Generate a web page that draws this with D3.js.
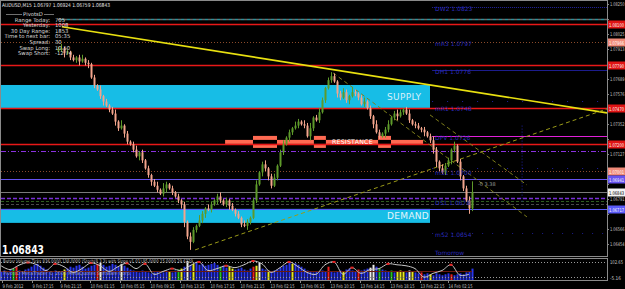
<!DOCTYPE html>
<html>
<head>
<meta charset="utf-8">
<script src="https://cdn.jsdelivr.net/npm/d3@7"></script>
<style>
html, body { margin: 0; padding: 0; background: #000; overflow: hidden; }
svg { display: block; }
text { font-family: "DejaVu Sans", sans-serif; }
</style>
</head>
<body>
<svg id="chart" width="625" height="289"></svg>
<script>
// ---- data ----
const firstOpen = 1.0790;
const closes = [
  1.0791, 1.0792, 1.0788, 1.0789, 1.0785, 1.0783, 1.0785, 1.0782, 1.0784, 1.0781,
  1.0780, 1.0770, 1.0764, 1.0761, 1.0756, 1.0752, 1.0749, 1.0746, 1.0743, 1.0737,
  1.0732, 1.0734, 1.0728, 1.0722, 1.0720, 1.0716, 1.0711, 1.0714, 1.0708, 1.0702,
  1.0697, 1.0692, 1.0689, 1.0686, 1.0683, 1.0687, 1.0690, 1.0687, 1.0684, 1.0681,
  1.0678, 1.0675, 1.0662, 1.0651, 1.0647, 1.0656, 1.0659, 1.0663, 1.0668, 1.0672,
  1.0671, 1.0675, 1.0678, 1.0681, 1.0678, 1.0675, 1.0678, 1.0674, 1.0671, 1.0668,
  1.0665, 1.0660, 1.0659, 1.0662, 1.0665, 1.0678, 1.0690, 1.0699, 1.0705, 1.0702,
  1.0696, 1.0689, 1.0695, 1.0704, 1.0714, 1.0720, 1.0725, 1.0729, 1.0732, 1.0734,
  1.0737, 1.0735, 1.0734, 1.0726, 1.0732, 1.0740, 1.0738, 1.0744, 1.0753, 1.0762,
  1.0768, 1.0771, 1.0767, 1.0758, 1.0755, 1.0759, 1.0753, 1.0756, 1.0759, 1.0758,
  1.0755, 1.0750, 1.0752, 1.0747, 1.0741, 1.0735, 1.0729, 1.0726, 1.0728, 1.0731,
  1.0735, 1.0740, 1.0743, 1.0741, 1.0744, 1.0746, 1.0743, 1.0738, 1.0735, 1.0734,
  1.0732, 1.0731, 1.0729, 1.0726, 1.0723, 1.0716, 1.0707, 1.0702, 1.0699, 1.0704,
  1.0708, 1.0716, 1.0719, 1.0707, 1.0696, 1.0687, 1.0678, 1.0672, 1.06843
];
// wick lengths in pips above / below the body
const upWicks = [
  2,3,1,2,1,2,1,2,3,1, 2,1,2,1,3,1,2,1,2,3, 1,4,1,2,1,2,3,1,2,1,
  2,1,2,3,1,4,2,1,2,1, 2,1,2,1,3,2,1,4,2,1, 3,2,1,2,3,1,2,1,2,1,
  2,1,3,2,1,2,3,1,2,3, 1,2,3,1,2,3,1,2,1,3, 2,1,3,2,4,1,2,3,2,1,
  2,3,2,1,2,3,2,1,4,2, 1,2,3,1,2,1,3,2,1,2, 3,1,2,3,2,1,2,3,1,2,
  2,1,2,1,2,3,2,1,3,2, 2,1,3,1,2,1,2,3,8
];
const downWicks = [
  1,2,3,1,2,1,2,3,1,2, 3,1,2,1,2,3,1,2,1,3, 2,1,3,2,1,2,1,3,2,1,
  2,3,1,2,1,2,3,1,2,1, 2,3,4,2,6,1,2,1,2,3, 1,2,1,3,2,1,2,3,1,2,
  1,2,1,3,2,1,2,1,3,2, 3,2,1,2,1,2,1,3,2,1, 2,1,2,1,3,2,1,2,1,2,
  1,2,1,3,2,1,2,3,1,2, 2,1,2,1,2,3,1,2,1,3, 2,1,2,3,1,2,1,2,1,2,
  1,2,3,1,2,3,4,2,1,2, 1,3,2,1,3,2,1,4,2
];

const priceTicks = [1.08250, 1.08138, 1.08025, 1.07913, 1.07801, 1.07689, 1.07576, 1.07464,
  1.07352, 1.07240, 1.07127, 1.07015, 1.06903, 1.06791, 1.06678, 1.06566, 1.06454];

const timeLabels = ['9 Feb 2012', '9 Feb 17:15', '9 Feb 21:15', '10 Feb 01:15', '10 Feb 05:15',
  '10 Feb 09:15', '10 Feb 13:15', '10 Feb 17:15', '10 Feb 21:15', '13 Feb 02:15', '13 Feb 06:15',
  '13 Feb 10:15', '13 Feb 14:15', '13 Feb 18:15', '13 Feb 22:15', '14 Feb 02:15'];
const timeIdx = [-18.7, -8.7, 0.7, 10.7, 20.7, 30.7, 40.7, 50.7, 60.7, 70.7, 80.7, 90.7, 100.7, 110.7, 120.7, 130];

const redLines = [1.0810, 1.0779, 1.0747, 1.0720];
const pivotRow = 1.08138;
const dashDotLine = 1.07150;
const violetLine = 1.06941;
const bidLine = 1.06843;
const ds1Rows = [1.06799, 1.06777, 1.06754];
const blueLine = 1.06717;
const sparseDots = [1.07524, 1.07023];

const levelNames = ['DW2', 'mR3', 'DH1', 'mR1', 'DPV', 'mS1', 'DS1', 'mS2'];
const levelPrices = [1.08231, 1.07966, 1.07756, 1.07480, 1.07263, 1.07001, 1.06777, 1.06537];

const supplyZone = [1.07472, 1.07644];
const demandZone = [1.06612, 1.06717];
const zoneEndIdx = 124;
const resistanceBand = [1.07203, 1.07233];
const resistanceSpan = [55.7, 121.7];
const resistanceBoxes = [[65, 73], [85.3, 89.3], [106.7, 111]];

// trendlines: [idx1, price1, idx2, price2]
const yellowTrend = [1.3, 1.0808, 183, 1.07435];
const supportTrend = [45.7, 1.0641, 183, 1.07465];
const channelA = [91.7, 1.07734, 156.3, 1.06657];
const channelB = [124, 1.0742, 156.3, 1.06896];
const futureLineIdx = 154.7;

const infoLabels = ['Range Today:', 'Yesterday:', '30 Day Range:', 'Time to next bar:', 'Spread:', 'Swap Long:', 'Swap Short:'];
const infoValues = ['705', '1008', '1853', '05:35', '30', '10.50', '-12.74'];

// indicator: volumes from bar index -19 onward
const volumes = [
  45,50,40,55,60,70,50,45,55,60, 70,80,85,75,65,55,45,40,50,45,
  40,55,60,70,65,75,80,70,60,65, 75,80,85,90,80,70,75,85,80,70,
  85,75,65,55,50,45,40,50,45,40, 35,40,45,35,40,50,45,40,50,55,
  60,70,100,80,85,90,80,85,75,80, 85,90,80,70,75,65,70,60,55,60,
  65,55,50,60,70,75,90,60,55,50, 45,50,55,65,75,80,90,85,88,80,
  70,60,50,45,40,45,40,50,45,70, 45,40,45,50,45,55,60,50,45,55,
  50,55,60,65,80,70,60,55,50,45, 50,40,45,50,45,40,50,45,40,35,
  40,30,35,30,25,35,30,25,30,35, 30,25,30,35,30,40,45,60
];
const volFlags = [[4,'g'],[5,'r'],[21,'y'],[32,'r'],[33,'w'],[40,'w'],[56,'y'],[59,'g'],[60,'y'],
  [62,'w'],[64,'y'],[73,'g'],[76,'y'],[77,'y'],[84,'r'],[85,'y'],[86,'w'],[89,'y'],[97,'y'],
  [109,'r'],[114,'y'],[119,'r'],[123,'w'],[124,'w'],[126,'g'],[130,'g'],[132,'y'],[133,'y'],
  [134,'y'],[136,'w'],[137,'y'],[140,'r'],[143,'y'],[150,'r']];
// stochastic, one point every 3 bars
const stochValues = [75,55,78,92,80,50,85,70,40,60, 90,75,45,70,88,60,85,30,45,60,
  50,75,95,50,60,75,65,80,100,85, 40,65,95,70,40,30,80,95,30,65,
  35,55,60,85,80,75,60,15,35,50, 80,25,30];
const stochLevels = [95, 15];
const indScaleLabels = ['102.65', '-5.16'];

// ---- drawing ----
const svg = d3.select('#chart');
const W = 625, H = 289, plotRight = 607;

svg.append('rect').attr('width', W).attr('height', H).attr('fill', '#000');

const x = d3.scaleLinear().domain([0, 138]).range([58, 472]);
const y = d3.scaleLinear().domain([1.06454, 1.08250]).range([244, 4]);
const yv = d3.scaleLinear().domain([0, 100]).range([280, 261]);

svg.append('clipPath').attr('id', 'mainClip')
  .append('rect').attr('x', 1).attr('y', 1).attr('width', plotRight - 1).attr('height', 255);
const g = svg.append('g').attr('clip-path', 'url(#mainClip)');

function hline(p, color, w, dash, x0) {
  g.append('line')
    .attr('x1', x0 === undefined ? 1 : x0).attr('x2', plotRight)
    .attr('y1', Math.round(y(p)) + 0.5).attr('y2', Math.round(y(p)) + 0.5)
    .attr('stroke', color).attr('stroke-width', w)
    .attr('stroke-dasharray', dash || null);
}

// squeeze small MT4-style text into a fixed width
function fit(sel, w) {
  return sel.attr('textLength', w).attr('lengthAdjust', 'spacingAndGlyphs');
}

// zones
[supplyZone, demandZone].forEach(z => {
  g.append('rect')
    .attr('x', 1).attr('width', x(zoneEndIdx) - 1)
    .attr('y', y(z[1])).attr('height', y(z[0]) - y(z[1]))
    .attr('fill', '#17bde6');
});

// pivot dashed rows
hline(pivotRow, '#6a6a6a', 1.5, '3,3', x(0));
g.append('line').attr('x1', x(0) + 3).attr('x2', plotRight)
  .attr('y1', Math.round(y(pivotRow)) + 0.5).attr('y2', Math.round(y(pivotRow)) + 0.5)
  .attr('stroke', '#2f8f98').attr('stroke-width', 1.5).attr('stroke-dasharray', '3,3');

const lvl = {};
levelNames.forEach((n, i) => lvl[n] = levelPrices[i]);
const lvStart = x(124.7);
hline(lvl.DW2, '#2424a0', 1, '1,1', lvStart);
hline(lvl.mR3, '#8a4a2a', 1, '1,2');
hline(lvl.DH1, '#1c1c8c', 1, null, lvStart);
hline(lvl.DPV, '#e020d8', 1, null, lvStart);
hline(lvl.mS1, '#8a4a2a', 1, '1,2');
hline(lvl.mS2, '#1c1c8c', 1, '1,9', lvStart);
sparseDots.forEach(p => hline(p, '#2020a0', 1, '1,14', lvStart));

hline(dashDotLine, '#8a30e0', 1, '5,2,1,2');
hline(violetLine, '#6652f0', 1);
hline(bidLine, '#7a7a7a', 1);
hline(ds1Rows[0], '#7a30d8', 1.5, '4,2');
hline(ds1Rows[1], '#2e5e1e', 1, '3,2');
hline(ds1Rows[2], '#4a4a4a', 1, '3,2');
hline(blueLine, '#5a5af8', 1);

// resistance bar
g.append('rect')
  .attr('x', x(resistanceSpan[0])).attr('width', x(resistanceSpan[1]) - x(resistanceSpan[0]))
  .attr('y', y(resistanceBand[1])).attr('height', y(resistanceBand[0]) - y(resistanceBand[1]))
  .attr('fill', '#ff6a52');
resistanceBoxes.forEach(b => {
  const x0 = x(b[0]), x1 = x(b[1]);
  const top = y(resistanceBand[1]), bot = y(resistanceBand[0]);
  g.append('rect').attr('x', x0).attr('width', x1 - x0).attr('y', top - 4).attr('height', bot - top + 8).attr('fill', '#ff6a52');
  g.append('rect').attr('x', x0).attr('width', x1 - x0).attr('y', top).attr('height', bot - top).attr('fill', '#000');
});

redLines.forEach(p => hline(p, '#e81818', 1.6));

// vertical dotted line in the future area
g.append('line')
  .attr('x1', x(futureLineIdx)).attr('x2', x(futureLineIdx))
  .attr('y1', y(1.0734)).attr('y2', y(1.0677))
  .attr('stroke', '#2020a0').attr('stroke-dasharray', '1,2');

// trendlines
function trend(t, color, w, dash) {
  g.append('line')
    .attr('x1', x(t[0])).attr('y1', y(t[1]))
    .attr('x2', x(t[2])).attr('y2', y(t[3]))
    .attr('stroke', color).attr('stroke-width', w)
    .attr('stroke-dasharray', dash || null);
}
trend(yellowTrend, '#e8e010', 1.6);
trend(supportTrend, '#9a9a18', 1, '4,3');
trend(channelA, '#7f7f1a', 1, '4,3');
trend(channelB, '#7f7f1a', 1, '4,3');

// candles
const candles = closes.map((c, i) => {
  const o = i === 0 ? firstOpen : closes[i - 1];
  return {
    i, o, c,
    h: Math.max(o, c) + upWicks[i] * 1e-4,
    l: Math.min(o, c) - downWicks[i] * 1e-4
  };
});
const bullCol = '#5e9a2a', bearCol = '#f2a48c';
g.selectAll('.wick').data(candles).enter().append('line')
  .attr('x1', d => Math.round(x(d.i)) + 0.5).attr('x2', d => Math.round(x(d.i)) + 0.5)
  .attr('y1', d => y(d.h)).attr('y2', d => y(d.l))
  .attr('stroke', d => d.c >= d.o ? bullCol : bearCol).attr('stroke-width', 1);
g.selectAll('.body').data(candles).enter().append('rect')
  .attr('x', d => Math.round(x(d.i)) - 0.5).attr('width', 2)
  .attr('y', d => y(Math.max(d.o, d.c)))
  .attr('height', d => Math.max(1, Math.abs(y(d.o) - y(d.c))))
  .attr('fill', d => d.c >= d.o ? bullCol : bearCol);

// zone and bar captions
g.append('text').attr('x', x(109.7)).attr('y', (y(supplyZone[0]) + y(supplyZone[1])) / 2 + 3.5)
  .attr('fill', '#d8f0fb').attr('font-size', 9).attr('letter-spacing', 0.3).text('SUPPLY');
g.append('text').attr('x', x(109.7)).attr('y', (y(demandZone[0]) + y(demandZone[1])) / 2 + 3.5)
  .attr('fill', '#e4f4fc').attr('font-size', 9).attr('letter-spacing', 0.3).text('DEMAND');
g.append('text').attr('x', x(91.3)).attr('y', (y(resistanceBand[0]) + y(resistanceBand[1])) / 2 + 2.4)
  .attr('fill', '#fff').attr('font-size', 6.3).attr('letter-spacing', 0.2).text('RESISTANCE');

// level labels
levelNames.forEach((n, i) => {
  g.append('text').attr('x', x(125.7)).attr('y', y(levelPrices[i]) + 4)
    .attr('fill', '#2a2ab8').attr('font-size', 6).text(n + '  ' + levelPrices[i].toFixed(4));
});
g.append('text').attr('x', x(125.7)).attr('y', 255)
  .attr('fill', '#2a2ab8').attr('font-size', 6).text('Tomorrow');
g.append('text').attr('x', x(140)).attr('y', y(1.06885))
  .attr('fill', '#9a9a9a').attr('font-size', 5).text('-0 3.38');

// info box
const info = svg.append('g').attr('font-size', 5.3).attr('fill', '#d8d8d8');
fit(info.append('text').attr('x', 2).attr('y', 6.5).attr('fill', '#e8e8e8')
  .text('AUDUSD,M15  1.06797 1.06924 1.06759 1.06843'), 108);
info.append('text').attr('x', 33).attr('y', 16).attr('text-anchor', 'middle').text('PivotsD');
info.append('line').attr('x1', 6).attr('x2', 22).attr('y1', 14.5).attr('y2', 14.5).attr('stroke', '#bbb').attr('stroke-width', 0.6);
info.append('line').attr('x1', 44).attr('x2', 54).attr('y1', 14.5).attr('y2', 14.5).attr('stroke', '#bbb').attr('stroke-width', 0.6);
infoLabels.forEach((t, i) => {
  info.append('text').attr('x', 50).attr('y', 21.5 + i * 5.6).attr('text-anchor', 'end').text(t);
  info.append('text').attr('x', 55).attr('y', 21.5 + i * 5.6).text(infoValues[i]);
});

fit(svg.append('text').attr('x', 2).attr('y', 254).attr('fill', '#fff')
  .attr('font-size', 12).attr('font-weight', 'bold')
  .attr('font-family', '"Liberation Sans", Arial, sans-serif').text(bidLine.toFixed(5)), 42);

// right price axis (labels under a price tag are hidden, as in the terminal)
const tags = [[redLines[0], '#e01414', '#fff'], [lvl.mR3, '#f08a78', '#fff'], [redLines[1], '#e01414', '#fff'],
  [redLines[2], '#e01414', '#fff'], [redLines[3], '#e01414', '#fff'], [lvl.mS1, '#f08a78', '#fff'],
  [violetLine, '#6652f0', '#fff'], [bidLine, '#f4f4f4', '#000'], [blueLine, '#5a5af8', '#fff']];
const ax = svg.append('g').attr('font-size', 5).attr('fill', '#c4c4c4');
priceTicks.forEach(p => {
  ax.append('line').attr('x1', plotRight).attr('x2', plotRight + 2)
    .attr('y1', Math.round(y(p)) + 0.5).attr('y2', Math.round(y(p)) + 0.5).attr('stroke', '#888');
  const covered = tags.some(t => Math.abs(y(t[0]) - y(p)) < 6.5);
  if (!covered) fit(ax.append('text').attr('x', 610).attr('y', y(p) + 2).text(p.toFixed(5)), 14.5);
});
tags.forEach(t => {
  const yy = Math.round(y(t[0]));
  ax.append('rect').attr('x', plotRight + 1).attr('width', W - plotRight).attr('y', yy - 3.5).attr('height', 8).attr('fill', t[1]);
  fit(ax.append('text').attr('x', 609).attr('y', yy + 2.5).attr('fill', t[2]).text(t[0].toFixed(5)), 15);
});

// frame
svg.append('rect').attr('x', 0.5).attr('y', 0.5).attr('width', plotRight).attr('height', 256)
  .attr('fill', 'none').attr('stroke', '#8a8a8a');
svg.append('rect').attr('x', 0.5).attr('y', 258.5).attr('width', plotRight).attr('height', 22)
  .attr('fill', 'none').attr('stroke', '#8a8a8a');

// indicator window
const iw = svg.append('g');
const volCol = { b: '#2a36ec', g: '#22c022', y: '#e8e820', w: '#ececec', r: '#e82020' };
const flagMap = new Map(volFlags);
iw.selectAll('.vol').data(volumes).enter().append('rect')
  .attr('x', (d, k) => Math.round(x(k - 19)) - 0.5).attr('width', 2)
  .attr('y', d => yv(d)).attr('height', d => yv(0) - yv(d))
  .attr('fill', (d, k) => volCol[flagMap.get(k) || 'b']);
stochLevels.forEach(v => {
  iw.append('line').attr('x1', 1).attr('x2', plotRight)
    .attr('y1', Math.round(yv(v)) + 0.5).attr('y2', Math.round(yv(v)) + 0.5)
    .attr('stroke', '#9a9a9a').attr('stroke-dasharray', '1,2');
});
iw.append('line').attr('x1', 1).attr('x2', x(138))
  .attr('y1', Math.round(yv(50)) + 0.5).attr('y2', Math.round(yv(50)) + 0.5)
  .attr('stroke', '#6a1a10');
const stochPts = stochValues.map((v, j) => [x(-19 + 3 * j), yv(v)]);
iw.append('path').attr('d', d3.line().curve(d3.curveCatmullRom)(stochPts))
  .attr('fill', 'none').attr('stroke', '#c8c8c8').attr('stroke-width', 1);
stochValues.forEach((v, j) => {
  const prev = stochValues[j - 1], next = stochValues[j + 1];
  if (prev !== undefined && next !== undefined && v > prev && v > next) {
    iw.append('rect').attr('x', stochPts[j][0] - 1.5).attr('y', stochPts[j][1] - 1).attr('width', 3).attr('height', 2).attr('fill', '#e82020');
  }
});
fit(iw.append('text').attr('x', 3).attr('y', 263).attr('font-size', 5).attr('fill', '#bdbdbd')
  .text('Better Volume Ticks 836.0000 138.0000  (Stoch(8,3,3) with Slope v1.01) 95.0000 15.0000 29.6329'), 190);
fit(iw.append('text').attr('x', 3).attr('y', 275).attr('font-size', 5).attr('fill', '#bdbdbd').attr('opacity', 0.8)
  .text('PivotsD        MetaTrader \u00a9 2006 MetaQuotes Software Corp.'), 128);
fit(iw.append('text').attr('x', 610).attr('y', 264).attr('font-size', 5).attr('fill', '#c4c4c4').text(indScaleLabels[0]), 13);
fit(iw.append('text').attr('x', 610).attr('y', 279.5).attr('font-size', 5).attr('fill', '#c4c4c4').text(indScaleLabels[1]), 11);

// time axis
const ta = svg.append('g').attr('font-size', 5).attr('fill', '#c4c4c4');
timeLabels.forEach((t, k) => {
  const xx = Math.round(x(timeIdx[k])) + 0.5;
  ta.append('line').attr('x1', xx).attr('x2', xx).attr('y1', 281).attr('y2', 283).attr('stroke', '#888');
  fit(ta.append('text').attr('x', xx).attr('y', 287.5).text(t), t.length > 11 ? 24 : 21);
});
</script>
</body>
</html>
